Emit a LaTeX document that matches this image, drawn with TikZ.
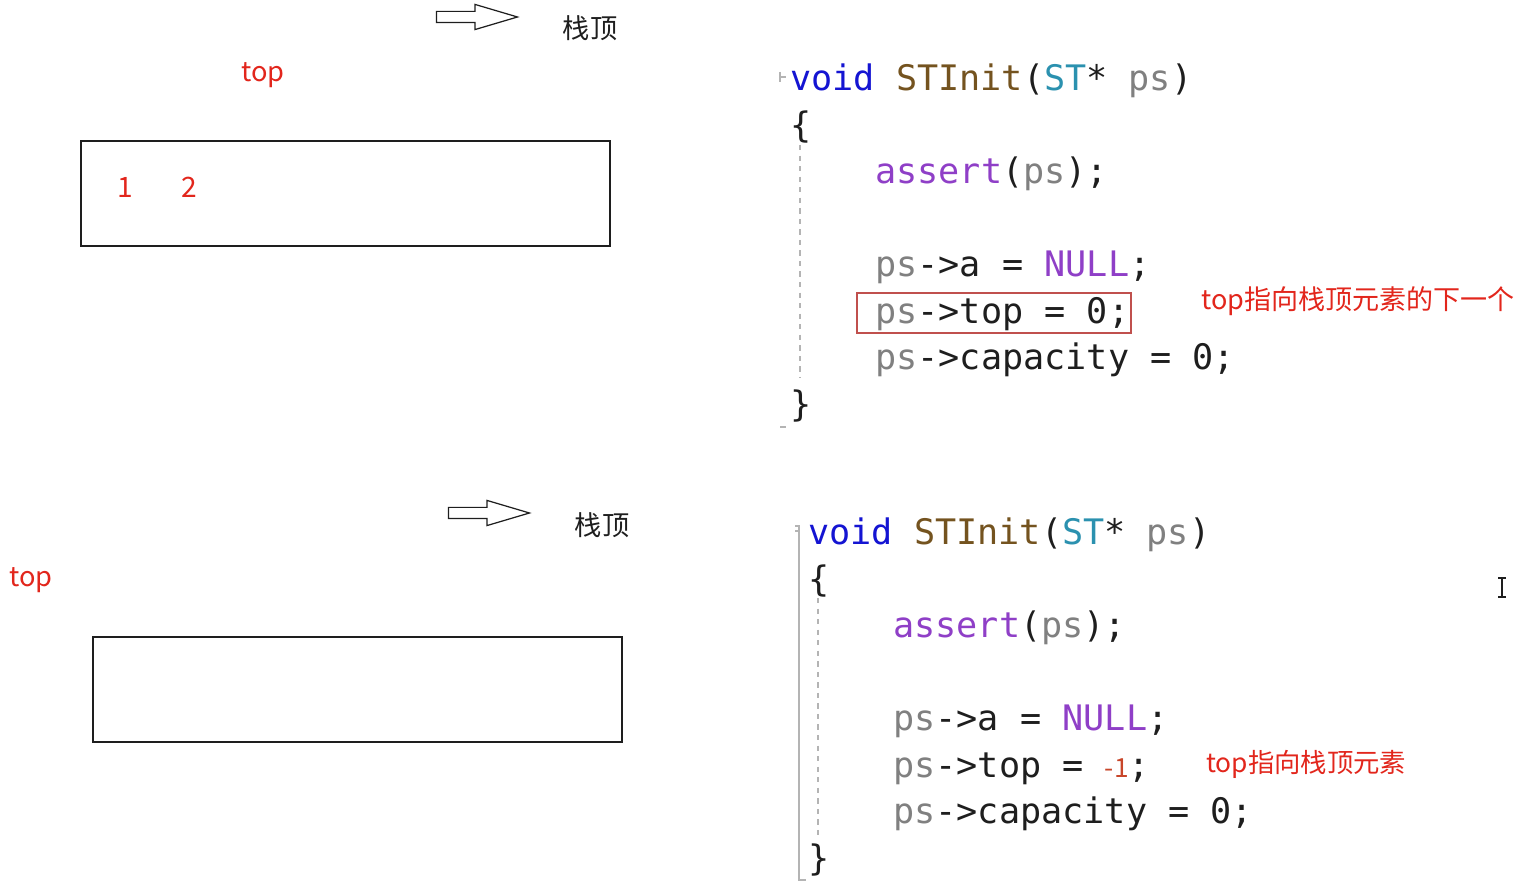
\documentclass[tikz,border=0pt]{standalone}
\usepackage{fontspec}
\setmonofont{DejaVu Sans Mono}
\newfontfamily\cjk{Noto Sans CJK SC}
\usetikzlibrary{shapes.arrows}
\definecolor{ink}{HTML}{1E1E1E}
\definecolor{kwblue}{HTML}{1414D2}
\definecolor{fnbrown}{HTML}{74531F}
\definecolor{typeteal}{HTML}{2B91AF}
\definecolor{parmgray}{HTML}{808080}
\definecolor{macro}{HTML}{8F3FC7}
\definecolor{note}{HTML}{E2261C}
\definecolor{numred}{HTML}{C8462A}
\definecolor{boxred}{HTML}{C0504D}
\definecolor{guide}{HTML}{B4B4B4}

\newcommand{\kw}[1]{{\color{kwblue}#1}}
\newcommand{\fn}[1]{{\color{fnbrown}#1}}
\newcommand{\ty}[1]{{\color{typeteal}#1}}
\newcommand{\pa}[1]{{\color{parmgray}#1}}
\newcommand{\mc}[1]{{\color{macro}#1}}

\begin{document}
\begin{tikzpicture}[
  x=0.02cm, y=-0.02cm,
  codeline/.style={anchor=base west,inner sep=0pt,text=ink,
                   font=\ttfamily\fontsize{20}{24}\selectfont},
  notelabel/.style={anchor=west,inner sep=0pt,text=note,
                    font=\cjk\fontsize{15.4}{18}\selectfont},
  toplabel/.style={inner sep=0pt,text=note,font=\cjk\fontsize{15.5}{18}\selectfont},
  headlabel/.style={inner sep=0pt,text=ink,font=\cjk\fontsize{15.5}{18}\selectfont},
  stackbox/.style={draw=ink,line width=0.9pt,minimum width=10.58cm,
                   minimum height=2.1cm,inner sep=0pt},
  hollowarrow/.style={single arrow,draw=ink,line width=0.7pt,inner xsep=0pt,
                      inner ysep=0.1cm,minimum height=1.62cm,minimum width=0.48cm,
                      single arrow head extend=0.14cm,single arrow tip angle=33},
  hlbox/.style={draw=boxred,line width=0.8pt},
  guideline/.style={draw=guide,line width=0.6pt}
]
\useasboundingbox (0,0) rectangle (1526,891);

% ---------- upper half: top points past the last element ----------
\node[hollowarrow] (arrowA) at (467.5,17) {};
\node[headlabel] (headA) at (590,28) {栈顶};
\node[toplabel] (topA) at (263,75) {top};
\node[stackbox] (stackA) at (345.5,193.5) {};
\node[toplabel,font=\cjk\fontsize{16}{18}\selectfont] (elemA1) at (125,187) {1};
\node[toplabel,font=\cjk\fontsize{16}{18}\selectfont] (elemA2) at (189,187) {2};

% code block A
\draw[guideline] (780,72) -- (780,82) (780,77) -- (786,77);
\draw[guideline,dashed] (800,145) -- (800,378);
\draw[guideline] (780,427) -- (786,427);
\node[codeline] (a1) at (790,91)    {\kw{void} \fn{STInit}(\ty{ST}* \pa{ps})};
\node[codeline] (a2) at (790,137.5) {\{};
\node[codeline] (a3) at (875,184)   {\mc{assert}(\pa{ps});};
\node[codeline] (a5) at (875,277)   {\pa{ps}->a = \mc{NULL};};
\node[codeline] (a6) at (875,323.5) {\pa{ps}->top = 0;};
\node[codeline] (a7) at (875,370)   {\pa{ps}->capacity = 0;};
\node[codeline] (a8) at (790,416.5) {\}};
\draw[hlbox] (857,293) rectangle (1131,333);
\node[notelabel] (noteA) at (1201,301) {top指向栈顶元素的下一个};

% ---------- lower half: top points at the top element ----------
\node[hollowarrow] (arrowB) at (479.5,513) {};
\node[headlabel] (headB) at (602,525) {栈顶};
\node[toplabel] (topB) at (31,580) {top};
\node[stackbox] (stackB) at (357.5,689.5) {};

% code block B
\draw[guideline] (795,526) -- (799,526) -- (799,880) -- (806,880);
\draw[guideline] (795,531) -- (800,531);
\draw[guideline,dashed] (818,598) -- (818,840);
\node[codeline] (b1) at (808,545)   {\kw{void} \fn{STInit}(\ty{ST}* \pa{ps})};
\node[codeline] (b2) at (808,591.5) {\{};
\node[codeline] (b3) at (893,638)   {\mc{assert}(\pa{ps});};
\node[codeline] (b5) at (893,731)   {\pa{ps}->a = \mc{NULL};};
\node[codeline] (b6) at (893,777.5) {\pa{ps}->top = {\cjk\fontsize{15}{16}\selectfont\color{numred}-1};};
\node[codeline] (b7) at (893,824)   {\pa{ps}->capacity = 0;};
\node[codeline] (b8) at (808,870.5) {\}};
\node[notelabel,font=\cjk\fontsize{15}{18}\selectfont] (noteB) at (1206,764) {top指向栈顶元素};

% text cursor
\draw[ink,line width=0.7pt] (1502,578) -- (1502,597)
  (1498,578) -- (1506,578) (1498,597) -- (1506,597);
\end{tikzpicture}
\end{document}
